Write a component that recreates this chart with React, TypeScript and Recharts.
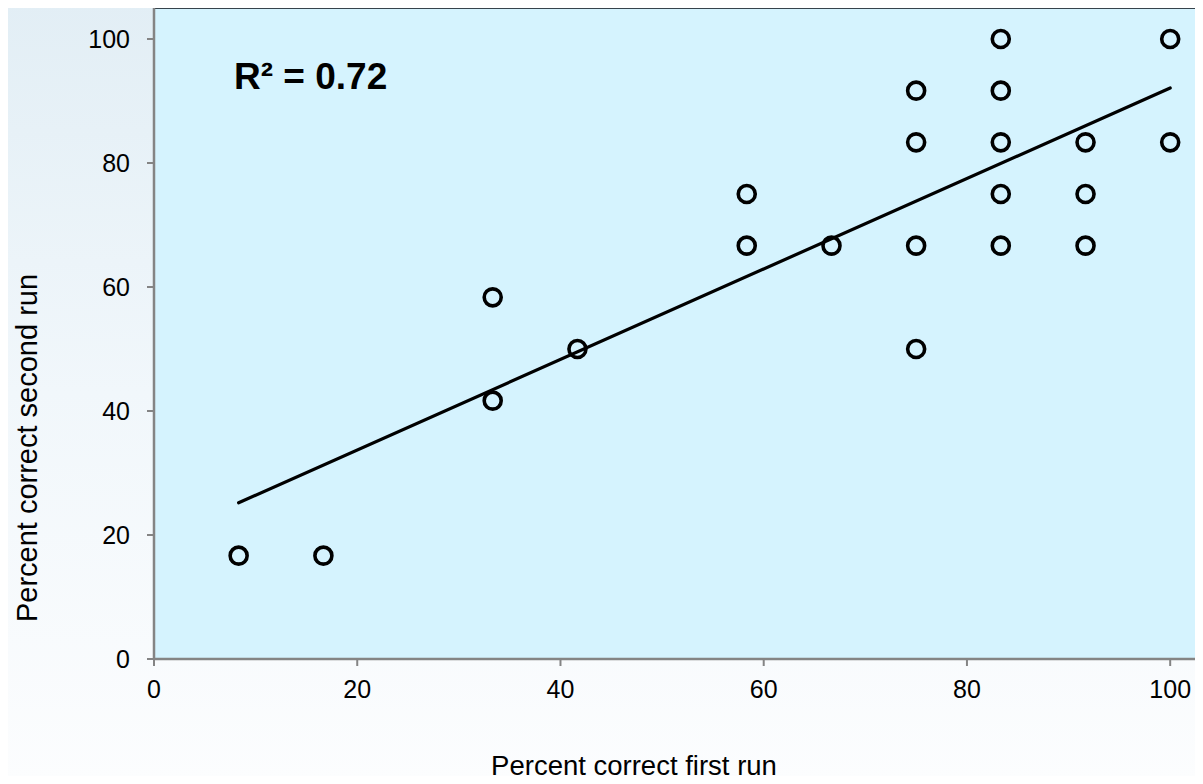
import { ScatterChart, Scatter, XAxis, YAxis, CartesianGrid, ReferenceLine } from 'recharts';

// first run (%) vs second run (%)
const firstRun = [8.33, 16.67, 33.33, 33.33, 41.67, 58.33, 58.33, 66.67, 75, 75, 75, 75, 83.33, 83.33, 83.33, 83.33, 83.33, 91.67, 91.67, 91.67, 100, 100];
const secondRun = [16.67, 16.67, 58.33, 41.67, 50, 75, 66.67, 66.67, 91.67, 83.33, 66.67, 50, 100, 91.67, 83.33, 75, 66.67, 83.33, 75, 66.67, 100, 83.33];

// linear trendline end points
const trendX = [8.33, 100];
const trendY = [25.2, 92.1];

const ticks = [0, 20, 40, 60, 80, 100];
const rSquared = '0.72';

const points = firstRun.map((x, i) => ({ x, y: secondRun[i] }));
const trend = trendX.map((x, i) => ({ x, y: trendY[i] }));

const font = '"Liberation Sans", Arial, sans-serif';
const axisGray = '#848484';

const Ring = (props: any) => {
  const { cx, cy } = props;
  if (cx == null || cy == null) return <g />;
  return <circle cx={cx} cy={cy} r={8.5} fill="none" stroke="#000" strokeWidth={3.6} />;
};

export default function App() {
  return (
    <div
      style={{
        position: 'relative',
        margin: -8,
        width: 1203,
        height: 784,
        overflow: 'hidden',
        fontFamily: font,
        background: 'linear-gradient(to bottom, #e2eef5 0%, #f1f7fb 50%, #fcfdfe 100%)',
      }}
    >
      <ScatterChart width={1221} height={784} margin={{ top: 8, right: 0, bottom: 0, left: 0 }}>
        <CartesianGrid horizontal={false} vertical={false} fill="#d5f3fe" />
        <XAxis
          type="number"
          dataKey="x"
          domain={[0, 105]}
          ticks={ticks}
          height={125}
          tickSize={7}
          tickMargin={14}
          axisLine={{ stroke: axisGray, strokeWidth: 2.5 }}
          tickLine={{ stroke: axisGray, strokeWidth: 2 }}
          tick={{ fill: '#000', fontSize: 25, fontFamily: font }}
          allowDataOverflow
        />
        <YAxis
          type="number"
          dataKey="y"
          domain={[0, 105]}
          ticks={ticks}
          width={154}
          tickSize={7}
          tickMargin={17}
          axisLine={{ stroke: axisGray, strokeWidth: 2.5 }}
          tickLine={{ stroke: axisGray, strokeWidth: 2 }}
          tick={{ fill: '#000', fontSize: 25, fontFamily: font }}
          allowDataOverflow
        />
        <ReferenceLine y={105} stroke="#36434c" strokeWidth={2} />
        <Scatter data={points} shape={Ring} isAnimationActive={false} />
        <Scatter
          data={trend}
          line={{ stroke: '#000', strokeWidth: 3.2, strokeLinecap: 'round' }}
          shape={() => <g />}
          isAnimationActive={false}
        />
      </ScatterChart>

      <div style={{ position: 'absolute', left: 234, top: 58, fontSize: 37, fontWeight: 'bold', color: '#000', lineHeight: 1, whiteSpace: 'nowrap' }}>
        R² = {rSquared}
      </div>
      <div style={{ position: 'absolute', left: 634, top: 752, transform: 'translateX(-50%)', fontSize: 27.5, color: '#000', lineHeight: 1, whiteSpace: 'nowrap' }}>
        Percent correct first run
      </div>
      <div
        style={{
          position: 'absolute',
          left: 27,
          top: 448,
          transform: 'translate(-50%, -50%) rotate(-90deg)',
          fontSize: 29,
          color: '#000',
          lineHeight: 1,
          whiteSpace: 'nowrap',
        }}
      >
        Percent correct second run
      </div>
    </div>
  );
}
